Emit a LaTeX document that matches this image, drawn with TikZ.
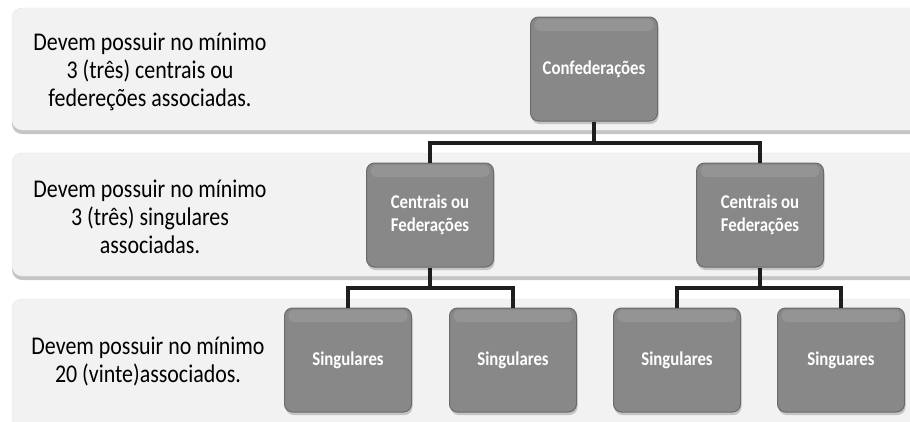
\documentclass[tikz,border=0pt]{standalone}
\usepackage{fontspec}
\setmainfont{Carlito}[FakeStretch=0.86]
\usetikzlibrary{positioning,shadows}
\definecolor{bandfill}{HTML}{F2F2F2}
\definecolor{bandedge}{HTML}{E4E4E4}
\definecolor{boxfill}{HTML}{888888}
\definecolor{boxedge}{HTML}{6A6A6A}
\definecolor{linkcol}{HTML}{1E1E1E}
\tikzset{band/.style={fill=bandfill,draw=bandedge,rounded corners=10pt,
        drop shadow={shadow xshift=0pt,shadow yshift=-4pt,opacity=.45,fill=gray}},
    rule/.style={align=center,text=black,font=\fontsize{25.5}{28}\selectfont},
    orgbox/.style={draw=boxedge,line width=1pt,fill=boxfill,rounded corners=8pt,
        minimum width=127pt,minimum height=104pt,align=center,text=white,
        font=\bfseries\fontsize{19.5}{23}\selectfont,
        drop shadow={shadow xshift=1pt,shadow yshift=-3pt,opacity=.4},
        path picture={\fill[white,opacity=.1,rounded corners=6pt]
            ([xshift=4pt,yshift=-2pt]path picture bounding box.north west)
            rectangle ([xshift=-4pt,yshift=-14pt]path picture bounding box.north east);}},
    link/.style={draw=linkcol,line width=3.5pt}}
\begin{document}
\begin{tikzpicture}[x=1pt,y=-1pt]
\useasboundingbox[fill=white] (0,0) rectangle (910,421);
% faixas de fundo
\path[band] (12,8) rectangle (940,130);
\path[band] (12,153) rectangle (940,276);
\path[band] (12,299) rectangle (940,450);
% regras de cada nivel
\node[rule] (rule1) at (150,72) {Devem possuir no mínimo\\3 (três) centrais ou\\federeções associadas.};
\node[rule] (rule2) at (150,217) {Devem possuir no mínimo\\3 (três) singulares\\associadas.};
\node[rule] (rule3) at (148,361) {Devem possuir no mínimo\\20 (vinte)associados.};
% caixas
\node[orgbox] (conf) at (594,69) {Confederações};
\node[orgbox] (fedA) at (430,215) {Centrais ou\\Federações};
\node[orgbox] (fedB) at (760,215) {Centrais ou\\Federações};
\node[orgbox] (singA) at (348,360) {Singulares};
\node[orgbox] (singB) at (513,360) {Singulares};
\node[orgbox] (singC) at (677,360) {Singulares};
\node[orgbox] (singD) at (841,360) {Singuares};
% ligacoes
\coordinate (bus1) at (594,143);
\coordinate (bus2) at (430,288);
\coordinate (bus3) at (760,288);
\draw[link] (conf.south) -- (bus1);
\draw[link] (fedA.north) |- (bus1) -| (fedB.north);
\draw[link] (fedA.south) -- (bus2);
\draw[link] (singA.north) |- (bus2) -| (singB.north);
\draw[link] (fedB.south) -- (bus3);
\draw[link] (singC.north) |- (bus3) -| (singD.north);
\end{tikzpicture}
\end{document}
